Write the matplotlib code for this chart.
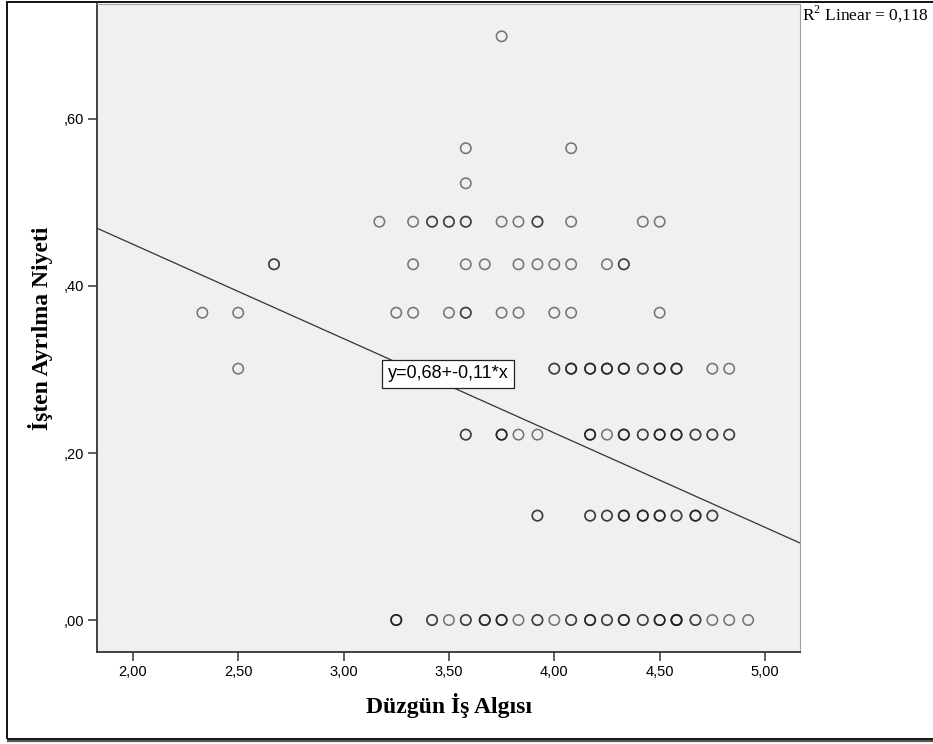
#! /usr/bin/env python3

"""
Scatter plot with linear fit line (SPSS style): Duzgun Is Algisi vs Isten Ayrilma Niyeti
"""

import numpy as np
import matplotlib.pyplot as plt
from matplotlib.ticker import FuncFormatter
from matplotlib.patches import Rectangle

# y levels (one list of x values and one list of counts per level)
y_levels = [0.000, 0.125, 0.222, 0.301, 0.368, 0.426, 0.477, 0.523, 0.565, 0.699]

x_000 = [3.25, 3.42, 3.50, 3.58, 3.67, 3.75, 3.83, 3.92, 4.00, 4.08,
         4.17, 4.25, 4.33, 4.42, 4.50, 4.58, 4.67, 4.75, 4.83, 4.92]
n_000 = [3, 2, 1, 2, 3, 3, 1, 2, 1, 2, 3, 2, 3, 2, 3, 4, 2, 1, 1, 1]

x_125 = [3.92, 4.17, 4.25, 4.33, 4.42, 4.50, 4.58, 4.67, 4.75]
n_125 = [2, 2, 2, 3, 3, 3, 2, 3, 2]

x_222 = [3.58, 3.75, 3.83, 3.92, 4.17, 4.25, 4.33, 4.42, 4.50, 4.58, 4.67, 4.75, 4.83]
n_222 = [2, 3, 1, 1, 3, 1, 3, 2, 3, 3, 2, 2, 2]

x_301 = [2.50, 4.00, 4.08, 4.17, 4.25, 4.33, 4.42, 4.50, 4.58, 4.75, 4.83]
n_301 = [1, 2, 3, 3, 3, 3, 2, 3, 3, 1, 1]

x_368 = [2.33, 2.50, 3.25, 3.33, 3.50, 3.58, 3.75, 3.83, 4.00, 4.08, 4.50]
n_368 = [1, 1, 1, 1, 1, 2, 1, 1, 1, 1, 1]

x_426 = [2.67, 3.33, 3.58, 3.67, 3.83, 3.92, 4.00, 4.08, 4.25, 4.33]
n_426 = [2, 1, 1, 1, 1, 1, 1, 1, 1, 2]

x_477 = [3.17, 3.33, 3.42, 3.50, 3.58, 3.75, 3.83, 3.92, 4.08, 4.42, 4.50]
n_477 = [1, 1, 2, 2, 2, 1, 1, 2, 1, 1, 1]

x_523 = [3.58]
n_523 = [1]

x_565 = [3.58, 4.08]
n_565 = [1, 1]

x_699 = [3.75]
n_699 = [1]

# fit line
intercept = 0.676
slope = -0.113
r2_text = "R$^2$ Linear = 0,118"
eq_text = "y=0,68+-0,11*x"

x_ticks = [2.0, 2.5, 3.0, 3.5, 4.0, 4.5, 5.0]
y_ticks = [0.0, 0.2, 0.4, 0.6]


def make_plot():
    plt.rcParams['mathtext.fontset'] = 'custom'
    plt.rcParams['mathtext.rm'] = 'Liberation Serif'

    rows_x = [x_000, x_125, x_222, x_301, x_368, x_426, x_477, x_523, x_565, x_699]
    rows_n = [n_000, n_125, n_222, n_301, n_368, n_426, n_477, n_523, n_565, n_699]

    xs, ys = [], []
    for lvl, rx, rn in zip(y_levels, rows_x, rows_n):
        for xv, cnt in zip(rx, rn):
            xs += [xv] * cnt
            ys += [lvl] * cnt

    fig = plt.figure(figsize=(9.33, 7.44), dpi=100)
    ax = fig.add_axes([97 / 933, 92 / 744, 703 / 933, 648 / 744])
    ax.set_facecolor('#f0f0f0')

    # overlapping points get darker, like SPSS
    ax.scatter(xs, ys, s=56, facecolors='none', edgecolors='#111111',
               linewidths=1.15, alpha=0.55, zorder=3)

    xlim = (1.83, 5.166)
    ylim = (-0.0383, 0.7377)
    lx = np.array(xlim)
    ax.plot(lx, intercept + slope * lx, color='#333333', lw=0.9, zorder=2)
    ax.set_xlim(xlim)
    ax.set_ylim(ylim)

    ax.text(3.495, 0.295, eq_text, fontsize=13, family='Liberation Sans',
            ha='center', va='center', zorder=4,
            bbox=dict(boxstyle='square,pad=0.3', fc='white', ec='#222222', lw=0.9))

    ax.set_xticks(x_ticks)
    ax.set_yticks(y_ticks)
    ax.xaxis.set_major_formatter(FuncFormatter(lambda v, p: f"{v:.2f}".replace('.', ',')))
    ax.yaxis.set_major_formatter(FuncFormatter(lambda v, p: f"{v:.2f}".replace('0.', '.').replace('.', ',')))
    ax.tick_params(axis='both', direction='out', length=6.5, width=1.1,
                   color='#333333', labelsize=10.5, pad=3)
    for lab in ax.get_xticklabels() + ax.get_yticklabels():
        lab.set_family('Liberation Sans')

    for side in ['left', 'bottom']:
        ax.spines[side].set_color('#333333')
        ax.spines[side].set_linewidth(1.3)
    for side in ['top', 'right']:
        ax.spines[side].set_color('#a0a0a0')
        ax.spines[side].set_linewidth(0.8)

    ax.set_xlabel('Düzgün İş Algısı', fontsize=17, family='Liberation Serif',
                  fontweight='bold', va='center')
    ax.xaxis.set_label_coords(0.5, -0.082)
    ax.set_ylabel('İşten Ayrılma Niyeti', fontsize=17, family='Liberation Serif',
                  fontweight='bold', va='center')
    ax.yaxis.set_label_coords(-0.081, 0.5)

    fig.text(802 / 933, (744 - 14) / 744, r2_text, fontsize=12.5,
             family='Liberation Serif', ha='left', va='center')

    # outer frame of the output window
    fig.patches.append(Rectangle((7 / 933, 5 / 744), 1.1, 737 / 744,
                                 transform=fig.transFigure, fill=False,
                                 ec='black', lw=1.3))
    fig.patches.append(Rectangle((7 / 933, 3 / 744), 1.1, 0,
                                 transform=fig.transFigure, fill=False,
                                 ec='#555555', lw=1.5))

    fig.savefig('out.png', dpi=100)


if __name__ == "__main__":
    make_plot()
